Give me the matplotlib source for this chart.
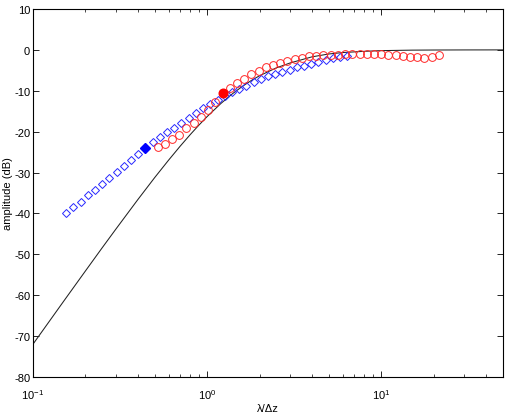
import matplotlib
matplotlib.use("Agg")
import matplotlib.pyplot as plt
from matplotlib.ticker import LogLocator, FixedLocator

plt.rcParams['font.family'] = ['Liberation Sans', 'DejaVu Sans']
plt.rcParams['mathtext.fontset'] = 'custom'
plt.rcParams['mathtext.rm'] = 'Liberation Sans'
plt.rcParams['mathtext.it'] = 'Liberation Sans:italic'

# theoretical curve
curve_x = [0.1, 0.15, 0.2, 0.25, 0.3, 0.4, 0.5, 0.6, 0.7, 0.8, 0.9, 1.0, 1.2, 1.4,
           1.6, 1.8, 2.0, 2.5, 3.0, 4.0, 5.0, 6.0, 8.0, 10.0, 15.0, 20.0, 30.0, 50.0]
curve_y = [-71.97, -61.47, -54.07, -48.36, -43.76, -36.61, -31.22, -26.99, -23.55,
           -20.71, -18.33, -16.31, -13.10, -10.70, -8.87, -7.44, -6.32, -4.38, -3.19,
           -1.70, -1.0, -0.65, -0.35, -0.18, -0.06, -0.03, -0.01, 0.0]

# blue diamonds
blue_x = [0.155, 0.1705, 0.1876, 0.2063, 0.2269, 0.2496, 0.2746, 0.302, 0.3322, 0.3655,
          0.402, 0.4422, 0.4864, 0.5351, 0.5886, 0.6474, 0.7122, 0.7834, 0.8617, 0.9479,
          1.0427, 1.147, 1.262, 1.388, 1.527, 1.679, 1.847, 2.032, 2.235, 2.459,
          2.705, 2.975, 3.273, 3.600, 3.960, 4.356, 4.792, 5.271, 5.798, 6.378]
blue_y = [-40.0, -38.5, -37.1, -35.6, -34.2, -32.7, -31.3, -29.8, -28.4, -26.9,
          -25.5, -24.0, -22.6, -21.4, -20.2, -19.0, -17.8, -16.6, -15.4, -14.3,
          -13.2, -12.2, -11.3, -10.4, -9.6, -8.8, -7.9, -7.1, -6.4, -5.8,
          -5.3, -4.8, -4.3, -3.9, -3.4, -3.0, -2.5, -2.1, -1.7, -1.4]
blue_fill = 11

# red circles
red_x = [0.520, 0.572, 0.629, 0.692, 0.761, 0.837, 0.921, 1.013, 1.115, 1.226,
         1.349, 1.484, 1.632, 1.795, 1.975, 2.172, 2.389, 2.628, 2.891, 3.180,
         3.498, 3.848, 4.233, 4.656, 5.122, 5.634, 6.197, 6.817, 7.499, 8.249,
         9.073, 9.981, 10.98, 12.08, 13.28, 14.61, 16.07, 17.68, 19.45, 21.39]
red_y = [-23.7, -23.0, -21.8, -20.7, -19.2, -18.0, -16.4, -14.8, -12.8, -10.5,
         -9.4, -8.1, -7.0, -6.0, -5.2, -4.3, -3.7, -3.1, -2.7, -2.2,
         -1.9, -1.6, -1.4, -1.3, -1.2, -1.15, -1.1, -1.1, -1.1, -1.1,
         -1.1, -1.1, -1.2, -1.25, -1.4, -1.65, -1.8, -1.9, -1.75, -1.25]
red_fill = 9

y_ticks = [-80, -70, -60, -50, -40, -30, -20, -10, 0, 10]

fig = plt.figure(figsize=(5.09, 4.14), dpi=100)
ax = fig.add_axes([33/509, 1-378/414, (503-33)/509, (378-10)/414])

ax.plot(curve_x, curve_y, color='#222222', lw=0.75)
bx = [v for i, v in enumerate(blue_x) if i != blue_fill]
by = [v for i, v in enumerate(blue_y) if i != blue_fill]
ax.plot(bx, by, ls='none', marker='D', ms=4.3, mfc='none', mec='#2828ff', mew=0.7)
ax.plot([blue_x[blue_fill]], [blue_y[blue_fill]], ls='none', marker='D', ms=5,
        mfc='blue', mec='blue')
rx = [v for i, v in enumerate(red_x) if i != red_fill]
ry = [v for i, v in enumerate(red_y) if i != red_fill]
ax.plot(rx, ry, ls='none', marker='o', ms=5.6, mfc='none', mec='#ff2828', mew=0.7)
ax.plot([red_x[red_fill]], [red_y[red_fill]], ls='none', marker='o', ms=6.2,
        mfc='red', mec='red')

ax.set_xscale('log')
ax.set_xlim(0.1, 50)
ax.set_ylim(-80, 10)
ax.yaxis.set_major_locator(FixedLocator(y_ticks))
ax.set_yticklabels([str(t).replace('\u2212', '-') for t in y_ticks])
ax.xaxis.set_major_locator(LogLocator(base=10, numticks=10))
ax.xaxis.set_minor_locator(LogLocator(base=10, subs=range(2, 10), numticks=20))
ax.tick_params(which='both', direction='in', top=True, right=True, labelsize=8)
ax.tick_params(which='major', length=4, width=0.6)
ax.tick_params(which='minor', length=2, width=0.5)
ax.tick_params(axis='y', pad=2)
ax.tick_params(axis='x', pad=7)
for s in ax.spines.values():
    s.set_linewidth(0.8)

ax.set_xlabel('λ/Δz', fontsize=8, labelpad=2)
ax.set_ylabel('amplitude (dB)', fontsize=8, labelpad=1)

fig.savefig('out.png', dpi=100)
